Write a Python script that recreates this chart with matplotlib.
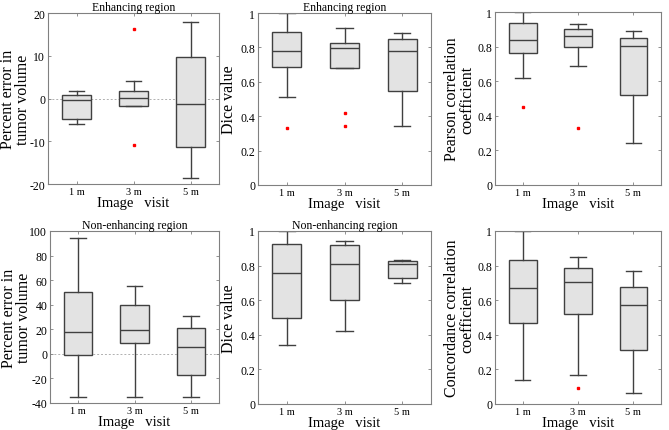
import matplotlib.pyplot as plt

plt.rcParams['font.family'] = ['Liberation Serif', 'DejaVu Serif']

visits = ["1 m", "3 m", "5 m"]

# box stats per visit: [whislo, q1, med, q3, whishi]
enh_err = [[-5.9, -4.7, -0.3, 0.8, 1.7], [-1.7, -1.7, 0.1, 1.7, 4.2], [-18.5, -11.3, -1.2, 9.8, 18.0]]
enh_err_out = [[], [16.2, -10.8], []]
enh_dice = [[0.51, 0.684, 0.78, 0.891, 1.0], [0.678, 0.678, 0.795, 0.823, 0.913], [0.341, 0.547, 0.78, 0.847, 0.884]]
enh_dice_out = [[0.331], [0.42, 0.343], []]
enh_pearson = [[0.62, 0.764, 0.841, 0.934, 1.0], [0.69, 0.797, 0.861, 0.901, 0.93], [0.245, 0.52, 0.801, 0.849, 0.888]]
enh_pearson_out = [[0.449], [0.329], []]
non_err = [[-34.8, -0.9, 18.0, 50.6, 94.2], [-34.8, 9.2, 19.7, 40.1, 54.9], [-34.8, -17.6, 5.3, 20.9, 31.0]]
non_err_out = [[], [], []]
non_dice = [[0.342, 0.497, 0.757, 0.925, 1.0], [0.423, 0.6, 0.81, 0.919, 0.94], [0.70, 0.729, 0.81, 0.825, 0.831]]
non_dice_out = [[], [], []]
non_ccc = [[0.14, 0.471, 0.669, 0.83, 1.0], [0.169, 0.523, 0.708, 0.787, 0.848], [0.062, 0.31, 0.575, 0.679, 0.769]]
non_ccc_out = [[], [0.09], []]

panels = [
    (enh_err, enh_err_out, "Percent error in\ntumor volume", "Enhancing region", (-20, 20), [-20, -10, 0, 10, 20], True),
    (enh_dice, enh_dice_out, "Dice value", "Enhancing region", (0, 1), [0, 0.2, 0.4, 0.6, 0.8, 1], False),
    (enh_pearson, enh_pearson_out, "Pearson correlation\ncoefficient", "", (0, 1), [0, 0.2, 0.4, 0.6, 0.8, 1], False),
    (non_err, non_err_out, "Percent error in\ntumor volume", "Non-enhancing region", (-40, 100), [-40, -20, 0, 20, 40, 60, 80, 100], True),
    (non_dice, non_dice_out, "Dice value", "Non-enhancing region", (0, 1), [0, 0.2, 0.4, 0.6, 0.8, 1], False),
    (non_ccc, non_ccc_out, "Concordance correlation\ncoefficient", "", (0, 1), [0, 0.2, 0.4, 0.6, 0.8, 1], False),
]

# axes rectangles in pixels: left, top, right, bottom, y-label offset
rects = [(48, 14, 219, 185, -17), (258, 14, 431, 186, -21), (495, 13, 661, 186, -20),
         (50, 232, 219, 404, -18), (258, 232, 431, 405, -21), (495, 232, 661, 405, -20)]

W, H = 669, 431
fig = plt.figure(figsize=(W / 100, H / 100), dpi=100)

edge = '#404040'
for (stats, outs, ylab, title, ylim, yticks, zero), (l, t, r, b, lo) in zip(panels, rects):
    ax = fig.add_axes([l / W, 1 - b / H, (r - l) / W, (b - t) / H])
    bstats = []
    for s, o in zip(stats, outs):
        bstats.append(dict(whislo=s[0], q1=s[1], med=s[2], q3=s[3], whishi=s[4], fliers=o))
    ax.bxp(bstats, positions=[1, 2, 3], widths=0.5, patch_artist=True,
           boxprops=dict(facecolor='#e3e3e3', edgecolor=edge, linewidth=1.0),
           medianprops=dict(color=edge, linewidth=1.0),
           whiskerprops=dict(color=edge, linewidth=1.0),
           capprops=dict(color=edge, linewidth=1.0),
           flierprops=dict(marker='s', markersize=1.8, markerfacecolor='red', markeredgecolor='red'),
           capwidths=0.28)
    if zero:
        ax.axhline(0, color='#b0b0b0', linestyle=(0, (2, 2)), linewidth=0.7, zorder=0)
    ax.set_xlim(0.5, 3.5)
    ax.set_ylim(*ylim)
    ax.set_yticks(yticks)
    ax.set_yticklabels(['%g' % v for v in yticks], fontsize=8.5)
    ax.set_xticks([1, 2, 3])
    ax.set_xticklabels(visits, fontsize=7.5)
    ax.tick_params(direction='in', length=2, width=0.6, color='#808080', top=True, right=True, pad=2)
    for sp in ax.spines.values():
        sp.set_color('#808080')
        sp.set_linewidth(0.8)
    ax.set_ylabel(ylab, fontsize=11.5, linespacing=0.95)
    ax.yaxis.set_label_coords(lo / (r - l), 0.5)
    ax.set_xlabel("Image   visit", fontsize=10.5, labelpad=0)
    if title:
        ax.set_title(title, fontsize=8.5, pad=2)

fig.savefig("out.png", dpi=100)
